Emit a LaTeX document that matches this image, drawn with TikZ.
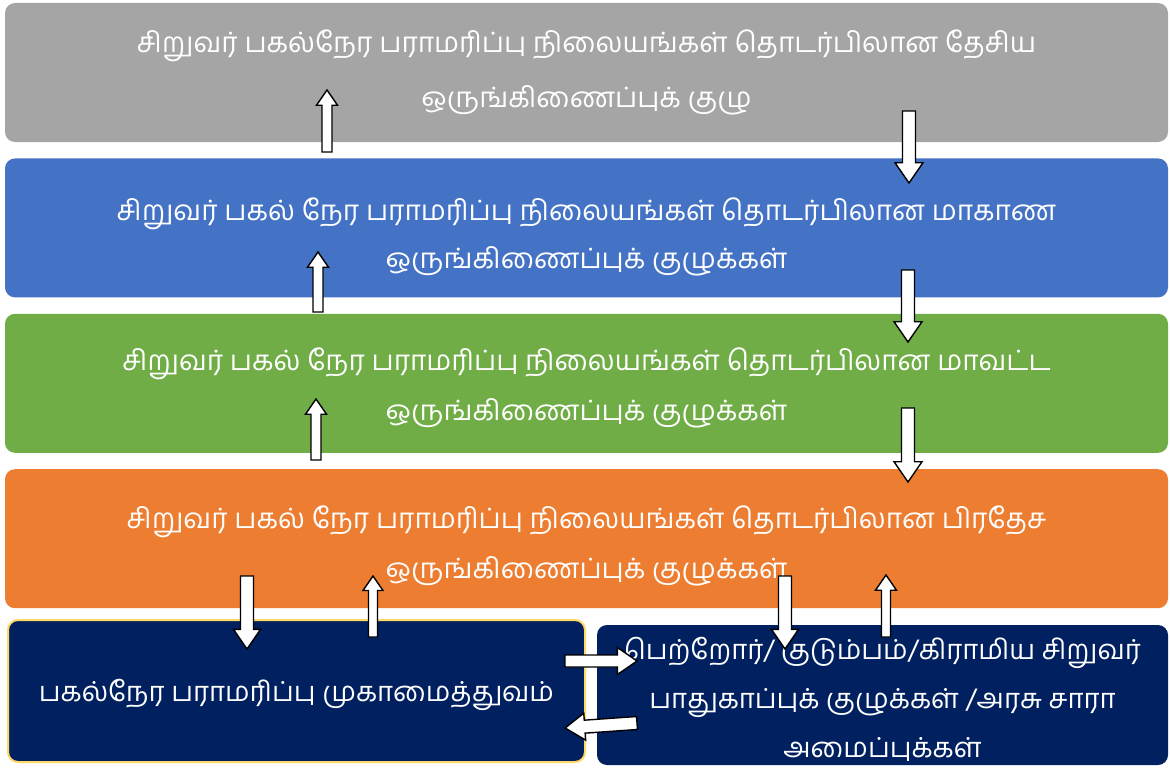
\documentclass[tikz,border=0pt]{standalone}
\usepackage{fontspec}
\newfontfamily\tamil[Script=Tamil]{Hind Madurai}
\usetikzlibrary{positioning}

\definecolor{natgray}{HTML}{A5A5A5}
\definecolor{provblue}{HTML}{4472C4}
\definecolor{distgreen}{HTML}{70AD47}
\definecolor{divorange}{HTML}{ED7D31}
\definecolor{navy}{HTML}{002060}
\definecolor{gold}{HTML}{FFD966}

\tikzset{
  level/.style={rounded corners=10pt, inner sep=0pt,
                minimum width=1163pt, minimum height=139pt},
  local/.style={rounded corners=10pt, inner sep=0pt, fill=navy},
  label text/.style={text=white, align=center, inner sep=0pt,
                font=\tamil\fontsize{28}{50}\selectfont},
  arrowline/.style={draw=black, fill=white, line width=1.4pt, line join=miter}
}

% tail x, tail y, length, angle, half shaft, half head
\newcommand{\blockarrow}[6]{%
  \draw[arrowline, shift={(#1,#2)}, rotate=#4]
    (0,-#5) -- ({#3-1.45*#6},-#5) -- ({#3-1.45*#6},-#6) -- (#3,0)
    -- ({#3-1.45*#6},#6) -- ({#3-1.45*#6},#5) -- (0,#5) -- cycle;}

\begin{document}
\begin{tikzpicture}[x=1pt,y=-1pt]
\useasboundingbox (0,0) rectangle (1170,768);

% the four committee levels
\node[level, fill=natgray] (national) at (586.5,72.5) {};
\node[level, fill=provblue, below=16pt of national] (province) {};
\node[level, fill=distgreen, below=16pt of province] (district) {};
\node[level, fill=divorange, below=16pt of district] (division) {};

\node[label text, font=\tamil\fontsize{28}{55}\selectfont] (nationaltext) at (national.center)
  {சிறுவர் பகல்நேர பராமரிப்பு நிலையங்கள் தொடர்பிலான தேசிய\\ஒருங்கிணைப்புக் குழு};
\node[label text, font=\tamil\fontsize{28}{48}\selectfont] (provincetext) at ([yshift=-9pt]province.center)
  {சிறுவர் பகல் நேர பராமரிப்பு நிலையங்கள் தொடர்பிலான மாகாண\\ஒருங்கிணைப்புக் குழுக்கள்};
\node[label text] (districttext) at ([yshift=-5pt]district.center)
  {சிறுவர் பகல் நேர பராமரிப்பு நிலையங்கள் தொடர்பிலான மாவட்ட\\ஒருங்கிணைப்புக் குழுக்கள்};
\node[label text] (divisiontext) at ([yshift=-7pt]division.center)
  {சிறுவர் பகல் நேர பராமரிப்பு நிலையங்கள் தொடர்பிலான பிரதேச\\ஒருங்கிணைப்புக் குழுக்கள்};

% bottom row
\node[local, draw=gold, line width=2pt, minimum width=577pt, minimum height=142pt] (manage) at (296.5,691) {};
\node[local, minimum width=571pt, minimum height=140pt] (parents) at (882.5,695) {};

\node[label text, font=\tamil\fontsize{27.5}{50}\selectfont] (managetext) at ([yshift=-4pt]manage.center)
  {பகல்நேர பராமரிப்பு முகாமைத்துவம்};
\node[label text, font=\tamil\fontsize{27.5}{49}\selectfont] (parentstext) at ([yshift=-4pt]parents.center)
  {பெற்றோர்/ குடும்பம்/கிராமிய சிறுவர்\\பாதுகாப்புக்  குழுக்கள் /அரசு சாரா\\அமைப்புக்கள்};

% arrows
\blockarrow{327}{152}{62}{90}{5}{10.5}
\blockarrow{909}{111}{72}{-90}{6.5}{14}
\blockarrow{318}{312}{60}{90}{5}{10.5}
\blockarrow{908}{270}{72}{-90}{6.5}{14}
\blockarrow{316}{460}{61}{90}{5}{10.5}
\blockarrow{908}{408}{74}{-90}{6.5}{14}

\blockarrow{247}{576}{73}{-90}{6.5}{13.5}
\blockarrow{373}{637}{61}{90}{4.5}{10}
\blockarrow{785}{576}{73}{-90}{6.5}{13.5}
\blockarrow{886}{637}{62}{90}{4.5}{10.5}

\blockarrow{565}{661}{72}{0}{6}{13.5}
\blockarrow{637}{723}{72}{184}{6.5}{13.5}

\end{tikzpicture}
\end{document}
